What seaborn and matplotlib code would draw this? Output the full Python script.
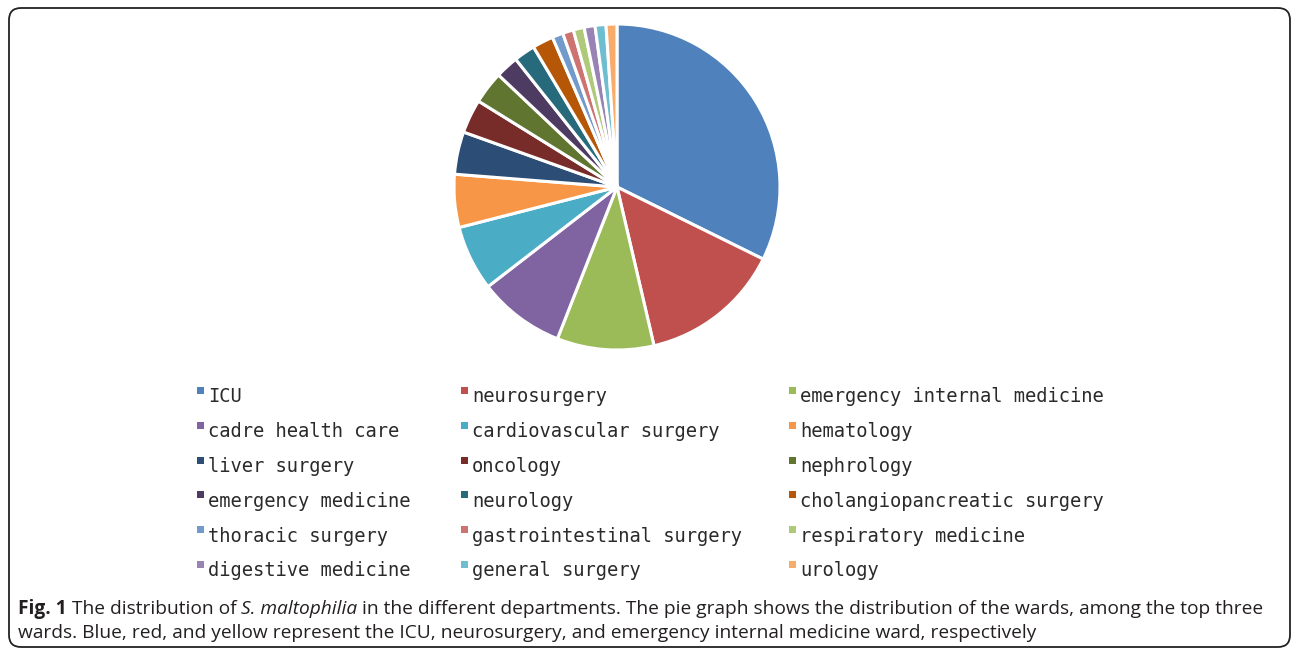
import matplotlib
matplotlib.use("Agg")
import matplotlib.pyplot as plt
import matplotlib.transforms as mtransforms
from matplotlib.patches import FancyBboxPatch, Rectangle
import seaborn as sns

# ---------------- data ----------------
departments = [
    "ICU", "neurosurgery", "emergency internal medicine",
    "cadre health care", "cardiovascular surgery", "hematology",
    "liver surgery", "oncology", "nephrology",
    "emergency medicine", "neurology", "cholangiopancreatic surgery",
    "thoracic surgery", "gastrointestinal surgery", "respiratory medicine",
    "digestive medicine", "general surgery", "urology",
]
shares = [32.3, 14.06, 9.61, 8.58, 6.47, 5.25, 4.22, 3.36, 3.22, 2.28, 2.11, 2.08,
          1.08, 1.08, 1.08, 1.08, 1.08, 1.08]
colors_hex = [
    "#4F81BD", "#C0504D", "#9BBB59", "#8064A2", "#4BACC6", "#F79646",
    "#2C4D75", "#772C2A", "#5F7530", "#4D3B62", "#276A7C", "#B65708",
    "#729ACA", "#CD7371", "#AFC97A", "#9983B5", "#6FBDD1", "#F9AB6B",
]
caption_line1 = [("Fig. 1", "bold", "normal"),
                 (" The distribution of ", "normal", "normal"),
                 ("S. maltophilia", "normal", "italic"),
                 (" in the different departments. The pie graph shows the distribution of the wards, among the top three",
                  "normal", "normal")]
caption_line2 = [("wards. Blue, red, and yellow represent the ICU, neurosurgery, and emergency internal medicine ward, respectively",
                  "normal", "normal")]

# ---------------- figure ----------------
sns.set_theme(style="white")
plt.rcParams["font.family"] = ["DejaVu Sans"]
W, H = 1292, 651
fig = plt.figure(figsize=(W / 100, H / 100), dpi=100)
fig.patch.set_facecolor("white")

def fx(x):
    return x / W

def fy(y):
    return 1 - y / H

palette = sns.color_palette(colors_hex)

cx, cy, r = 617, 187, 163
ax = fig.add_axes([fx(cx - r), fy(cy + r), 2 * r / W, 2 * r / H])
ax.pie(shares, colors=palette, startangle=90, counterclock=False,
       wedgeprops=dict(edgecolor="white", linewidth=2.2))
ax.set_xlim(-1.0, 1.0)
ax.set_ylim(-1.0, 1.0)
ax.axis("off")

# ---------------- legend ----------------
col_x = [197, 461, 789]
row_y0, row_dy = 397, 34.8
mono = ["DejaVu Sans Mono"]
for i, (lab, col) in enumerate(zip(departments, palette)):
    c, rr = i % 3, i // 3
    yc = row_y0 + rr * row_dy
    fig.patches.append(Rectangle((fx(col_x[c]), fy(yc - 3)), 7 / W, 7 / H,
                                 transform=fig.transFigure, facecolor=col,
                                 edgecolor="none"))
    fig.text(fx(col_x[c] + 11), fy(yc), lab, ha="left", va="center",
             fontsize=13.5, family=mono, color="#2a2a2a")

# ---------------- caption ----------------
cap_family = ["Liberation Sans Narrow", "Open Sans", "DejaVu Sans"]
cap_size = 14.5
fig.canvas.draw()
renderer = fig.canvas.get_renderer()

def draw_line(pieces, x0, ybase, size):
    x = x0
    arts = []
    for txt, weight, style in pieces:
        t = fig.text(fx(x), fy(ybase), txt, ha="left", va="baseline",
                     fontsize=size, family=cap_family, fontweight=weight,
                     fontstyle=style, color="#231f20")
        bb = t.get_window_extent(renderer)
        x += bb.width
        arts.append(t)
    return x - x0, arts

# fit first line to its width in the reference
width, arts = draw_line(caption_line1, 18, 614, cap_size)
for a in arts:
    a.remove()
cap_size = cap_size * (1243 / width)
draw_line(caption_line1, 18, 614, cap_size)
draw_line(caption_line2, 18, 638, cap_size)

# ---------------- frame ----------------
frame = FancyBboxPatch((9, 651 - 647), 1281, 639,
                       boxstyle="round,pad=0,rounding_size=12",
                       transform=mtransforms.IdentityTransform(),
                       facecolor="none", edgecolor="#222222", linewidth=1.3)
fig.patches.append(frame)

fig.savefig("out.png", dpi=100, facecolor="white")
